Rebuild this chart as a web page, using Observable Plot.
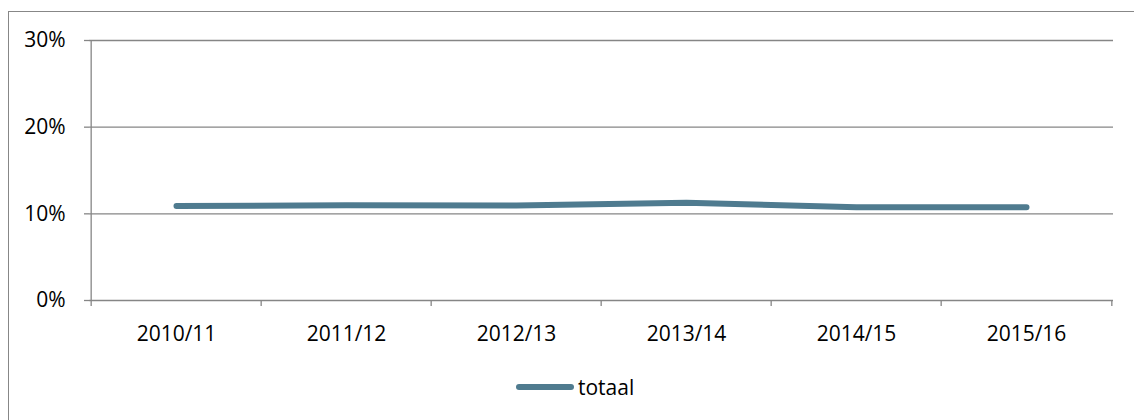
<!DOCTYPE html>
<html>
<head>
<meta charset="utf-8">
<script src="https://cdn.jsdelivr.net/npm/d3@7"></script>
<script src="https://cdn.jsdelivr.net/npm/@observablehq/plot@0.6"></script>
<style>
  html, body { margin: 0; padding: 0; width: 1134px; height: 420px; overflow: hidden; background: #fff; }
  #frame { position: absolute; left: 8px; top: 11px; width: 1200px; height: 500px; border: 1px solid #878787; box-sizing: border-box; }
  #chart { position: absolute; left: 0; top: 0; }
  #legend { position: absolute; left: 516px; top: 373px; display: flex; align-items: center; font-family: "Open Sans", sans-serif; font-size: 21px; color: #000; }
  #legend .sw { width: 58px; height: 6px; border-radius: 3px; background: #4f7b8f; margin-right: 4px; }
</style>
</head>
<body>
<div id="frame"></div>
<div id="chart"></div>
<div id="legend"><span class="sw"></span><span>totaal</span></div>
<script>
const categories = ["2010/11", "2011/12", "2012/13", "2013/14", "2014/15", "2015/16"];
const totaal = [0.109, 0.110, 0.1095, 0.1127, 0.1076, 0.1076];
const yTicks = [0, 0.1, 0.2, 0.3];
const seriesName = "totaal";

const data = categories.map((c, i) => ({cat: c, v: totaal[i]}));

const W = 1134, H = 360;
const mL = 89, mR = 21, mT = 40, mB = 60;
const step = (W - mL - mR) / categories.length;
const grid = "#868686";

const chart = Plot.plot({
  width: W,
  height: H,
  marginLeft: mL,
  marginRight: mR,
  marginTop: mT,
  marginBottom: mB,
  style: {fontFamily: "'Open Sans', sans-serif", fontSize: "21px", color: "#000", background: "transparent"},
  x: {type: "point", domain: categories, padding: 0.5},
  y: {domain: [0, 0.3]},
  marks: [
    Plot.ruleY(yTicks, {stroke: grid, strokeWidth: 1.3}),
    Plot.ruleX([categories[0]], {dx: -step / 2, stroke: grid, strokeWidth: 1.3}),
    Plot.axisY({ticks: yTicks, tickFormat: d3.format(".0%"), tickSize: 5, tickPadding: 19, stroke: grid, strokeWidth: 1.3, fill: "#000", label: null}),
    Plot.axisX({ticks: categories, tickSize: 0, tickPadding: 26, fill: "#000", label: null}),
    Plot.axisX({ticks: categories, tickSize: 6, dx: -step / 2, tickFormat: () => null, stroke: grid, strokeWidth: 1.3, label: null}),
    Plot.axisX({ticks: [categories[categories.length - 1]], tickSize: 6, dx: step / 2, tickFormat: () => null, stroke: grid, strokeWidth: 1.3, label: null}),
    Plot.line(data, {x: "cat", y: "v", stroke: "#4f7b8f", strokeWidth: 6, strokeLinecap: "round", strokeLinejoin: "round", title: () => seriesName})
  ]
});
document.getElementById("chart").appendChild(chart);
</script>
</body>
</html>
